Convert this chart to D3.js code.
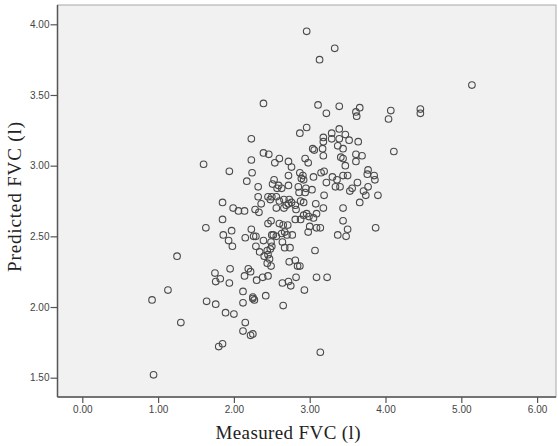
<!DOCTYPE html>
<html>
<head>
<meta charset="utf-8">
<script src="https://cdn.jsdelivr.net/npm/d3@7"></script>
<style>
  body { margin: 0; background: #fff; }
  svg { display: block; }
</style>
</head>
<body>
<script>
// measured FVC (l)
const measured = [
  2.96, 3.33, 3.13, 5.14, 2.39, 3.11, 3.22, 3.39, 3.66, 3.61, 3.62, 4.07, 4.04, 4.46, 4.46,
  2.96, 2.87, 2.23, 3.39, 3.29, 3.47, 3.18, 3.18, 3.29, 3.39, 3.52, 3.64, 3.37, 3.44, 3.17,
  3.04, 3.06, 4.11, 3.61, 3.69, 2.39, 2.46, 1.60, 1.94, 2.23, 2.60, 2.54, 2.72, 2.76, 2.94,
  2.98, 2.24, 2.17, 2.53, 2.72, 2.87, 2.91, 2.89, 2.92, 2.32, 2.51, 2.59, 2.57, 2.63, 2.72,
  2.85, 2.86, 2.95, 2.94, 1.85, 2.32, 2.45, 2.48, 2.50, 2.56, 2.60, 2.66, 2.73, 2.72, 2.76,
  2.81, 2.88, 2.92, 2.36, 1.99, 2.06, 2.14, 2.28, 2.33, 2.56, 2.66, 2.69, 2.82, 2.96, 2.92,
  1.85, 2.81, 2.88, 2.49, 2.45, 2.60, 2.65, 2.71, 1.63, 2.23, 1.97, 2.99,
  3.18, 3.41, 3.44, 3.61, 3.47, 3.05, 3.15, 3.19, 3.22, 3.30, 3.36, 3.44, 3.50, 3.34, 3.40,
  3.63, 3.53, 3.56, 3.77, 3.76, 3.85, 3.86, 3.77, 3.71, 3.74, 3.90, 3.66, 3.19, 3.03, 3.08,
  3.18, 3.09, 3.44, 3.05, 3.44, 3.00, 3.09, 3.14, 3.50, 3.87,
  2.98, 3.37, 3.48, 3.07, 2.87, 3.09, 3.23, 2.93,
  1.86, 1.93, 1.98, 2.15, 2.26, 2.29, 2.39, 2.50, 2.52, 2.56, 2.49, 2.50, 2.48, 2.44, 2.63,
  2.67, 2.70, 2.77, 2.64, 2.67, 2.74, 2.29, 2.34, 2.40, 2.45, 2.47, 2.44, 2.49, 2.73, 2.81,
  2.84, 1.95, 1.75, 1.82, 1.76, 1.94, 2.19, 2.22, 2.14, 2.30, 2.38, 2.45, 2.82, 2.64, 2.72,
  2.75, 2.12, 2.42, 1.64, 1.76, 2.12, 2.25, 2.27, 2.25, 2.65, 1.30, 1.89, 2.00, 2.15, 2.12,
  2.22, 2.25, 1.80, 1.85, 3.14, 0.92, 1.13, 0.94, 1.25
];
// predicted FVC (l), same order
const predicted = [
  3.95, 3.83, 3.75, 3.57, 3.44, 3.43, 3.37, 3.42, 3.41, 3.38, 3.35, 3.39, 3.33, 3.40, 3.37,
  3.27, 3.23, 3.19, 3.26, 3.23, 3.22, 3.20, 3.17, 3.19, 3.19, 3.18, 3.17, 3.14, 3.12, 3.12,
  3.12, 3.11, 3.10, 3.08, 3.07, 3.09, 3.08, 3.01, 2.96, 3.04, 3.05, 3.02, 3.03, 2.99, 3.05,
  3.02, 2.95, 2.89, 2.90, 2.93, 2.95, 2.93, 2.91, 2.90, 2.85, 2.87, 2.86, 2.84, 2.84, 2.86,
  2.85, 2.81, 2.84, 2.81, 2.74, 2.78, 2.78, 2.76, 2.78, 2.78, 2.75, 2.76, 2.76, 2.73, 2.74,
  2.72, 2.75, 2.74, 2.73, 2.70, 2.68, 2.68, 2.69, 2.67, 2.70, 2.70, 2.72, 2.69, 2.66, 2.65,
  2.62, 2.62, 2.62, 2.61, 2.59, 2.59, 2.58, 2.58, 2.56, 2.55, 2.54, 2.64,
  3.07, 3.06, 3.05, 3.03, 3.00, 2.92, 2.95, 2.96, 2.88, 2.92, 2.90, 2.93, 2.93, 2.85, 2.85,
  2.88, 2.82, 2.84, 2.97, 2.94, 2.93, 2.90, 2.85, 2.82, 2.79, 2.79, 2.74, 2.79, 2.83, 2.73,
  2.70, 2.66, 2.70, 2.63, 2.61, 2.57, 2.56, 2.56, 2.55, 2.56,
  2.53, 2.51, 2.50, 2.40, 2.29, 2.21, 2.21, 2.12,
  2.51, 2.47, 2.43, 2.49, 2.50, 2.50, 2.47, 2.51, 2.51, 2.50, 2.46, 2.43, 2.41, 2.40, 2.52,
  2.53, 2.51, 2.51, 2.46, 2.42, 2.42, 2.43, 2.39, 2.36, 2.37, 2.34, 2.31, 2.29, 2.32, 2.33,
  2.29, 2.27, 2.24, 2.20, 2.18, 2.17, 2.27, 2.25, 2.22, 2.19, 2.21, 2.22, 2.21, 2.17, 2.18,
  2.15, 2.11, 2.08, 2.04, 2.02, 2.03, 2.06, 2.05, 2.07, 2.01, 1.89, 1.96, 1.95, 1.89, 1.83,
  1.80, 1.81, 1.72, 1.74, 1.68, 2.05, 2.12, 1.52, 2.36
];
const xTicks = [0, 1, 2, 3, 4, 5, 6];
const yTicks = [1.5, 2, 2.5, 3, 3.5, 4];

const points = measured.map((m, i) => ({ m: m, p: predicted[i] }));

const w = 558;
const h = 446;
const plot = { left: 57.5, top: 5, right: 556, bottom: 397 };

const svg = d3.select('body').append('svg').attr('width', w).attr('height', h);

const xScale = d3.scaleLinear().domain([0, 6]).range([82.3, 537.1]);
const yScale = d3.scaleLinear().domain([1.5, 4]).range([377.7, 24.3]);

// plot background and frame
svg.append('rect')
  .attr('x', plot.left).attr('y', plot.top)
  .attr('width', plot.right - plot.left).attr('height', plot.bottom - plot.top)
  .attr('fill', '#f1f1f1')
  .attr('stroke', '#a8a8a8')
  .attr('stroke-width', 1);

// axes
const xAxis = d3.axisBottom(xScale).tickValues(xTicks).tickFormat(d3.format('.2f')).tickSize(6).tickPadding(3);
const yAxis = d3.axisLeft(yScale).tickValues(yTicks).tickFormat(d3.format('.2f')).tickSize(7).tickPadding(1);

const gx = svg.append('g').attr('transform', `translate(0,${plot.bottom})`).call(xAxis);
const gy = svg.append('g').attr('transform', `translate(${plot.left},0)`).call(yAxis);

[gx, gy].forEach((g) => {
  g.select('.domain').remove();
  g.selectAll('.tick line').attr('stroke', '#555').attr('stroke-width', 1.2);
  g.selectAll('.tick text')
    .attr('fill', '#444')
    .style('font-family', '"Liberation Sans", Arial, sans-serif')
    .style('font-size', '10px');
});

// axis lines (darker on left and bottom)
svg.append('line')
  .attr('x1', plot.left).attr('x2', plot.left)
  .attr('y1', plot.top).attr('y2', plot.bottom)
  .attr('stroke', '#555').attr('stroke-width', 1.5);
svg.append('line')
  .attr('x1', plot.left).attr('x2', plot.right)
  .attr('y1', plot.bottom).attr('y2', plot.bottom)
  .attr('stroke', '#555').attr('stroke-width', 1.5);

// points
svg.append('g')
  .selectAll('circle')
  .data(points)
  .enter()
  .append('circle')
  .attr('cx', (d) => xScale(d.m))
  .attr('cy', (d) => yScale(d.p))
  .attr('r', 3.3)
  .attr('fill', 'none')
  .attr('stroke', '#4a4a4a')
  .attr('stroke-width', 1.1);

// axis titles
svg.append('text')
  .attr('x', 288).attr('y', 439)
  .attr('text-anchor', 'middle')
  .attr('textLength', 145)
  .style('font-family', '"Liberation Serif", "DejaVu Serif", serif')
  .style('font-size', '19px')
  .attr('fill', '#222')
  .text('Measured FVC (l)');

svg.append('text')
  .attr('transform', 'translate(21,197) rotate(-90)')
  .attr('text-anchor', 'middle')
  .attr('textLength', 150)
  .style('font-family', '"Liberation Serif", "DejaVu Serif", serif')
  .style('font-size', '19px')
  .attr('fill', '#222')
  .text('Predicted FVC (l)');
</script>
</body>
</html>
